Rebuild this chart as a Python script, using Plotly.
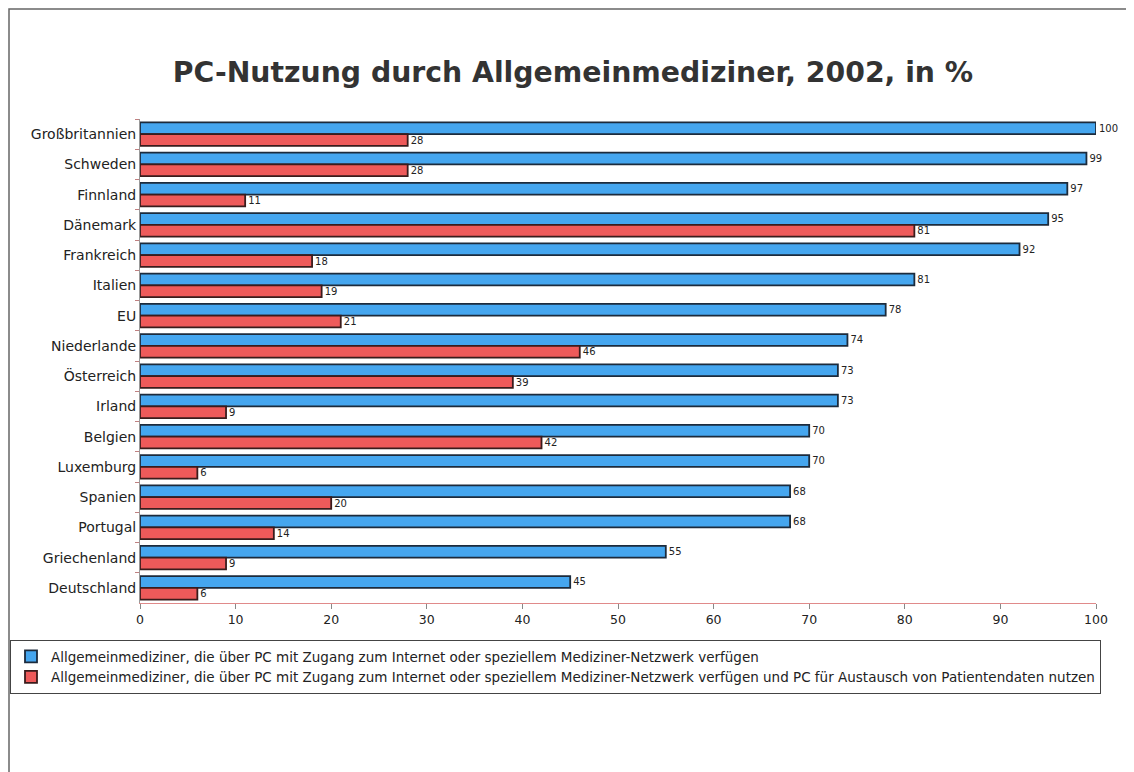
import plotly.graph_objects as go

countries = ["Großbritannien", "Schweden", "Finnland", "Dänemark", "Frankreich", "Italien", "EU",
             "Niederlande", "Österreich", "Irland", "Belgien", "Luxemburg", "Spanien", "Portugal",
             "Griechenland", "Deutschland"]
pc_internet = [100, 99, 97, 95, 92, 81, 78, 74, 73, 73, 70, 70, 68, 68, 55, 45]
pc_patient = [28, 28, 11, 81, 18, 19, 21, 46, 39, 9, 42, 6, 20, 14, 9, 6]

name1 = "Allgemeinmediziner, die über PC mit Zugang zum Internet oder speziellem Mediziner-Netzwerk verfügen"
name2 = ("Allgemeinmediziner, die über PC mit Zugang zum Internet oder speziellem Mediziner-Netzwerk verfügen "
         "und PC für Austausch von Patientendaten nutzen")

FONT = "DejaVu Sans, Liberation Sans, Arial, sans-serif"

fig = go.Figure()
fig.add_trace(go.Bar(
    y=countries, x=pc_internet, orientation="h", name=name1,
    marker=dict(color="#45a6ef", line=dict(color="#1c2b3c", width=1.8)),
    text=[str(v) for v in pc_internet], textposition="outside",
    textfont=dict(size=10, color="#222"), cliponaxis=False,
))
fig.add_trace(go.Bar(
    y=countries, x=pc_patient, orientation="h", name=name2,
    marker=dict(color="#ee5a5a", line=dict(color="#3a1c1c", width=1.8)),
    text=[str(v) for v in pc_patient], textposition="outside",
    textfont=dict(size=10, color="#222"), cliponaxis=False,
))

W, H = 1134, 772
OX, OY = 8, 8  # page offset of the figure in the screenshot
# desired screen positions of the plot area
S_LEFT, S_RIGHT, S_TOP, S_BOTTOM = 140, 1096, 119, 603
L = S_LEFT - OX
R = W - (S_RIGHT - OX)
T = S_TOP - OY
B = H - (S_BOTTOM - OY)
pw = W - L - R
ph = H - T - B


def px_x(sx):
    return (sx - S_LEFT) / pw


def px_y(sy):
    return (S_BOTTOM - sy) / ph


fig.update_layout(
    width=W, height=H,
    margin=dict(l=L, r=R, t=T, b=B, autoexpand=False),
    paper_bgcolor="white", plot_bgcolor="white",
    font=dict(family=FONT, color="#222"),
    title=dict(text="<b>PC-Nutzung durch Allgemeinmediziner, 2002, in %</b>",
               x=(573 - OX) / W, xanchor="center", y=1 - (72 - OY) / H, yanchor="middle",
               font=dict(size=28.3, color="#333", family=FONT)),
    barmode="group", bargap=0.22, bargroupgap=0.0,
    xaxis=dict(range=[0, 100], dtick=10, showgrid=False, zeroline=False,
               ticks="outside", ticklen=5, tickcolor="#888", automargin=False,
               showline=True, linecolor="#e08a8a", linewidth=1,
               tickfont=dict(size=12.5, color="#222")),
    yaxis=dict(autorange="reversed", showgrid=False, showline=True, automargin=False,
               linecolor="#999", linewidth=1, ticks="outside", ticklen=4, tickson="boundaries",
               tickcolor="#c08080", tickfont=dict(size=14, color="#222")),
    legend=dict(orientation="v", x=px_x(10), xanchor="left", y=px_y(640), yanchor="top",
                bordercolor="#444", borderwidth=1, bgcolor="white",
                font=dict(size=13.5, color="#222"), itemwidth=30, tracegroupgap=2),
    showlegend=True,
    shapes=[dict(type="rect", xref="paper", yref="paper",
                 x0=px_x(9), x1=px_x(1131), y0=px_y(790), y1=px_y(9),
                 line=dict(color="#666", width=1.5))],
)

fig.write_html("out.html")
